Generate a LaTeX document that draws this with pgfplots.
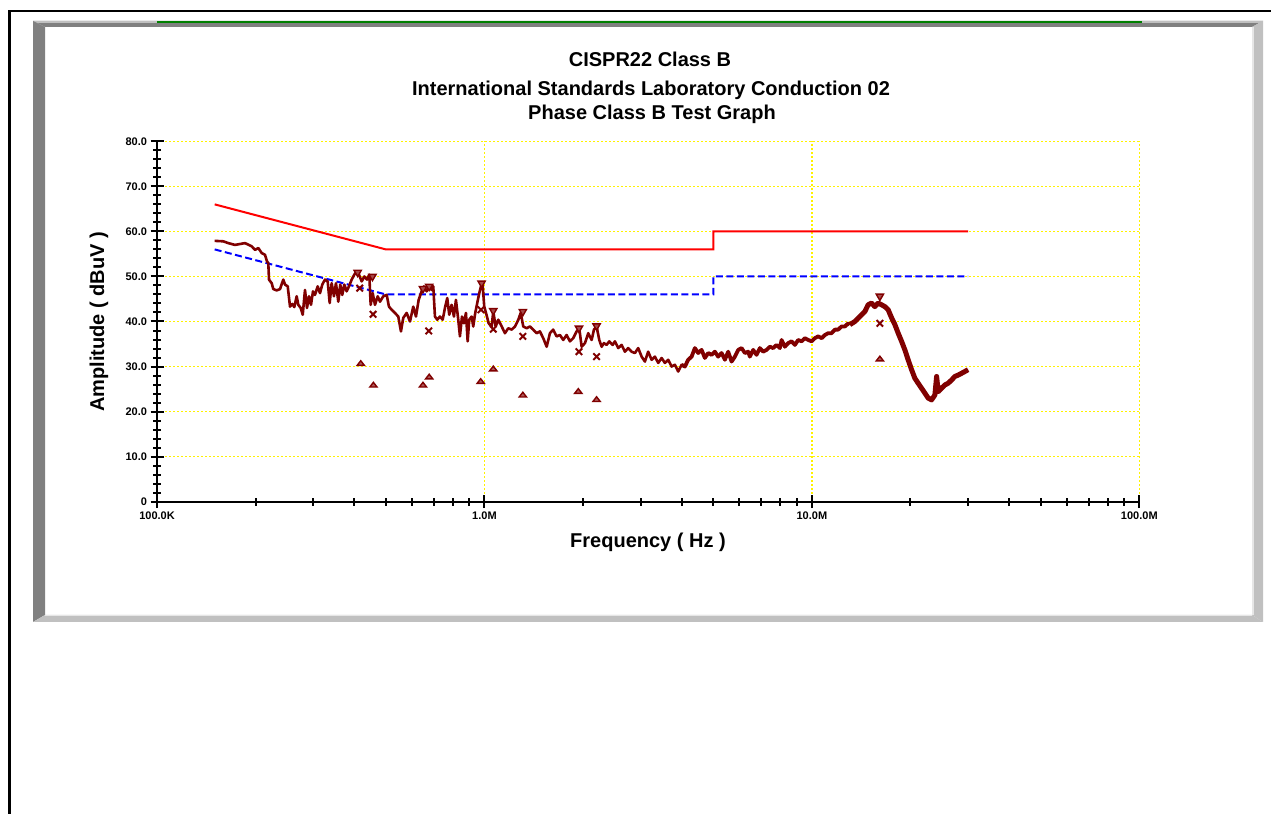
\documentclass[border=0pt]{standalone}
\usepackage{fontspec}
\setmainfont{Liberation Sans}
\usepackage{pgfplots}
\usepackage{pgfplotstable}
\pgfplotsset{compat=1.18}

\definecolor{tracecol}{RGB}{128,0,0}
\definecolor{qpcol}{RGB}{255,0,0}
\definecolor{avcol}{RGB}{0,0,255}
\definecolor{bevdark}{RGB}{128,128,128}
\definecolor{bevlight}{RGB}{192,192,192}
\definecolor{bevhi}{RGB}{230,230,230}
\definecolor{topgreen}{RGB}{0,128,0}

% peak scan, 150 kHz - 4.4 MHz (thin part)
\pgfplotstableread{
f dB
1.500e5 57.9
1.594e5 57.8
1.651e5 57.4
1.730e5 57.0
1.792e5 57.2
1.857e5 57.4
1.946e5 56.7
1.992e5 55.9
2.039e5 56.3
2.088e5 55.2
2.137e5 54.8
2.168e5 53.3
2.187e5 53.0
2.198e5 49.3
2.240e5 48.5
2.265e5 47.2
2.320e5 46.9
2.375e5 47.2
2.430e5 49.3
2.460e5 48.2
2.507e5 47.8
2.548e5 43.3
2.589e5 43.9
2.626e5 43.2
2.670e5 45.6
2.701e5 43.7
2.747e5 43.0
2.786e5 41.5
2.831e5 47.0
2.871e5 43.0
2.912e5 45.6
2.953e5 43.7
2.995e5 46.7
3.037e5 45.9
3.095e5 47.8
3.146e5 46.3
3.197e5 48.2
3.258e5 49.3
3.321e5 48.9
3.368e5 44.1
3.415e5 48.5
3.471e5 45.6
3.520e5 48.5
3.578e5 44.4
3.628e5 48.2
3.680e5 45.9
3.732e5 48.2
3.795e5 46.7
3.857e5 47.8
3.931e5 49.3
4.004e5 50.4
4.072e5 51.1
4.138e5 50.4
4.218e5 48.9
4.296e5 50.0
4.378e5 49.3
4.449e5 50.4
4.493e5 43.7
4.557e5 46.3
4.631e5 43.7
4.720e5 45.6
4.797e5 44.4
4.909e5 45.6
5.028e5 45.9
5.110e5 43.3
5.208e5 42.6
5.330e5 41.9
5.455e5 41.1
5.559e5 37.8
5.650e5 40.8
5.787e5 41.9
5.923e5 40.0
6.062e5 43.3
6.178e5 41.1
6.296e5 44.8
6.430e5 46.7
6.535e5 47.8
6.661e5 46.7
6.784e5 47.8
6.899e5 47.0
6.977e5 47.8
7.061e5 41.1
7.176e5 40.4
7.313e5 41.1
7.454e5 40.4
7.591e5 43.3
7.698e5 45.2
7.807e5 41.5
7.940e5 43.7
8.069e5 41.1
8.183e5 44.8
8.318e5 40.4
8.417e5 36.7
8.537e5 41.1
8.658e5 39.6
8.780e5 41.9
8.886e5 35.6
8.986e5 40.4
9.139e5 41.1
9.242e5 38.9
9.373e5 41.9
9.506e5 44.1
9.641e5 46.3
9.757e5 47.8
9.874e5 48.2
9.985e5 43.3
1.011e6 41.9
1.030e6 39.6
1.052e6 38.9
1.064e6 42.2
1.082e6 38.9
1.102e6 40.4
1.129e6 38.9
1.155e6 37.4
1.182e6 38.5
1.211e6 38.2
1.240e6 38.9
1.269e6 40.4
1.290e6 41.9
1.314e6 38.9
1.346e6 38.5
1.377e6 38.9
1.409e6 38.2
1.443e6 37.4
1.477e6 37.8
1.512e6 36.3
1.549e6 34.4
1.585e6 37.4
1.622e6 38.2
1.661e6 36.7
1.701e6 37.0
1.740e6 35.9
1.782e6 37.0
1.824e6 35.6
1.867e6 36.3
1.912e6 37.8
1.948e6 38.5
1.981e6 34.4
2.027e6 35.2
2.075e6 37.4
2.125e6 35.9
2.160e6 38.2
2.201e6 38.9
2.242e6 35.9
2.280e6 34.4
2.317e6 35.2
2.361e6 34.8
2.405e6 35.6
2.463e6 34.8
2.503e6 35.6
2.562e6 34.1
2.624e6 34.8
2.685e6 33.3
2.748e6 34.1
2.814e6 33.3
2.881e6 33.0
2.948e6 34.1
3.020e6 32.2
3.091e6 31.1
3.163e6 33.3
3.240e6 31.5
3.316e6 32.2
3.394e6 30.8
3.476e6 31.9
3.558e6 30.8
3.641e6 31.5
3.729e6 30.0
3.816e6 30.4
3.906e6 28.9
4.000e6 30.4
4.094e6 30.0
4.190e6 31.5
4.292e6 32.2
4.392e6 34.1
}\traceA

% 4 MHz - 13 MHz (denser scan, drawn thicker)
\pgfplotstableread{
f dB
4.000e6 30.4
4.094e6 30.0
4.190e6 31.5
4.292e6 32.2
4.392e6 34.1
4.495e6 33.0
4.604e6 33.7
4.712e6 31.9
4.823e6 33.0
4.939e6 32.6
5.055e6 33.3
5.174e6 32.2
5.299e6 33.0
5.424e6 31.5
5.551e6 33.3
5.685e6 31.1
5.819e6 32.2
5.956e6 33.7
6.100e6 34.1
6.243e6 33.0
6.390e6 33.3
6.466e6 32.2
6.618e6 33.7
6.778e6 32.6
6.937e6 34.1
7.100e6 33.3
7.272e6 33.7
7.442e6 34.4
7.617e6 34.1
7.801e6 34.8
7.984e6 34.1
8.080e6 35.9
8.270e6 34.4
8.464e6 35.2
8.668e6 35.6
8.872e6 34.8
9.080e6 35.9
9.300e6 35.6
9.519e6 36.3
9.743e6 35.9
9.978e6 35.6
1.021e7 36.3
1.045e7 36.7
1.071e7 36.3
1.096e7 37.0
1.121e7 37.4
1.148e7 37.4
1.176e7 38.2
1.203e7 38.2
1.232e7 38.9
1.261e7 38.9
1.291e7 39.6
1.306e7 39.3
}\traceB

% 13 MHz - 30 MHz
\pgfplotstableread{
f dB
1.306e7 39.3
1.353e7 40.0
1.401e7 41.1
1.451e7 42.2
1.485e7 43.7
1.521e7 44.1
1.557e7 43.3
1.594e7 44.1
1.633e7 43.7
1.671e7 43.3
1.710e7 42.6
1.752e7 40.8
1.793e7 39.3
1.835e7 37.4
1.879e7 35.6
1.923e7 33.7
1.968e7 31.5
2.016e7 29.3
2.063e7 27.4
2.111e7 26.3
2.162e7 25.2
2.213e7 24.1
2.265e7 23.0
2.320e7 22.6
2.375e7 23.7
2.404e7 27.8
2.431e7 24.4
2.489e7 25.2
2.547e7 25.9
2.607e7 26.3
2.670e7 27.0
2.733e7 27.8
2.797e7 28.1
2.865e7 28.5
2.932e7 28.9
3.000e7 29.3
}\traceC

\begin{document}
\begin{tikzpicture}
\useasboundingbox (0,0) rectangle (1271bp,814bp);
\fill[white] (0,0) rectangle (1271bp,814bp);

% frame, in pixel coordinates (y down)
\begin{scope}[x=1bp,y=-1bp,yshift=814bp]
  \draw[black,line width=2bp] (9.5,830) -- (9.5,11.5) -- (1280,11.5);
  \fill[bevdark] (33,21) -- (1263,21) -- (1252,27) -- (45,27) -- cycle;
  \fill[bevlight] (33,21) -- (1263,21) -- (1261,23) -- (35,23) -- cycle;
  \fill[bevdark] (33,21) -- (45,27) -- (45,615) -- (33,622) -- cycle;
  \fill[bevlight] (1263,21) -- (1263,622) -- (1252,615) -- (1252,27) -- cycle;
  \fill[bevlight] (33,622) -- (1263,622) -- (1252,615) -- (45,615) -- cycle;
  \fill[bevhi] (45,615) rectangle (1252,616.5);
  \fill[bevhi] (1252,27) rectangle (1253.5,615);
  \fill[topgreen] (157,21) rectangle (1142,23.5);
\end{scope}

\begin{axis}[
  at={(157bp,312.3bp)}, anchor=south west,
  scale only axis, width=982.3bp, height=360.4bp,
  xmode=log, xmin=1e5, xmax=1e8, ymin=0, ymax=80,
  axis lines*=left,
  axis line style={black, line width=2bp},
  xtick={1e5,1e6,1e7,1e8},
  xticklabels={100.0K,1.0M,10.0M,100.0M},
  minor xtick={2e5,3e5,4e5,5e5,6e5,7e5,8e5,9e5,2e6,3e6,4e6,5e6,6e6,7e6,8e6,9e6,2e7,3e7,4e7,5e7,6e7,7e7,8e7,9e7},
  ytick={0,10,20,30,40,50,60,70,80},
  yticklabels={0,10.0,20.0,30.0,40.0,50.0,60.0,70.0,80.0},
  minor y tick num=4,
  tick align=center,
  major tick length=13bp, minor tick length=8bp,
  every tick/.append style={black, line width=2bp},
  grid=major,
  major grid style={yellow, line width=1.6bp, dash pattern=on 2bp off 2bp},
  ticklabel style={font=\fontsize{11bp}{13bp}\selectfont\bfseries},
  clip=false,
]
  % limit lines
  \addplot[qpcol, line width=2bp] coordinates {(1.5e5,66) (5e5,56) (5e6,56) (5e6,60) (3e7,60)};
  \addplot[avcol, line width=2bp, dash pattern=on 7bp off 3.5bp] coordinates {(1.5e5,56) (5e5,46) (5e6,46) (5e6,50) (3e7,50)};

  % peak scan
  \addplot[tracecol, line width=2.6bp, line join=round] table[x=f,y=dB] {\traceA};
  \addplot[tracecol, line width=3.8bp, line join=round] table[x=f,y=dB] {\traceB};
  \addplot[tracecol, line width=5bp, line join=round] table[x=f,y=dB] {\traceC};

  % peak markers
  \addplot[only marks, mark=triangle*, mark size=4.2bp,
    mark options={rotate=180, draw=tracecol, fill=tracecol!70!white, line width=1.4bp}]
    coordinates {(4.10e5,50.9) (4.55e5,50.0) (6.49e5,47.3) (6.78e5,47.8) (9.80e5,48.5)
                 (1.064e6,42.4) (1.31e6,42.2) (1.944e6,38.5) (2.20e6,39.0) (1.613e7,45.6)};
  % quasi-peak
  \addplot[only marks, mark=x, mark size=4.6bp, mark options={draw=tracecol, line width=2bp}]
    coordinates {(4.16e5,47.4) (4.57e5,41.6) (6.76e5,37.9) (9.76e5,42.6) (1.064e6,38.3)
                 (1.31e6,36.7) (1.944e6,33.3) (2.20e6,32.2) (1.613e7,39.6)};
  % average
  \addplot[only marks, mark=triangle*, mark size=4.2bp,
    mark options={yscale=0.75, draw=tracecol, fill=tracecol!65!white, line width=1.4bp}]
    coordinates {(4.19e5,30.6) (4.58e5,25.8) (6.49e5,25.8) (6.78e5,27.6) (9.74e5,26.6)
                 (1.064e6,29.4) (1.31e6,23.6) (1.935e6,24.4) (2.20e6,22.6) (1.613e7,31.6)};
\end{axis}

\begin{scope}[x=1bp,y=-1bp,yshift=814bp, every node/.style={inner sep=0pt, font=\fontsize{20bp}{24bp}\selectfont\bfseries}]
  \node[anchor=base] at (650,67) {CISPR22 Class B};
  \node[anchor=base] at (651,96) {International Standards Laboratory Conduction 02};
  \node[anchor=base] at (652,120) {Phase Class B Test Graph};
  \node[anchor=base] at (648,548) {Frequency ( Hz )};
  \node[anchor=base, rotate=90] at (104,322) {Amplitude ( dBuV )};
\end{scope}
\end{tikzpicture}
\end{document}
